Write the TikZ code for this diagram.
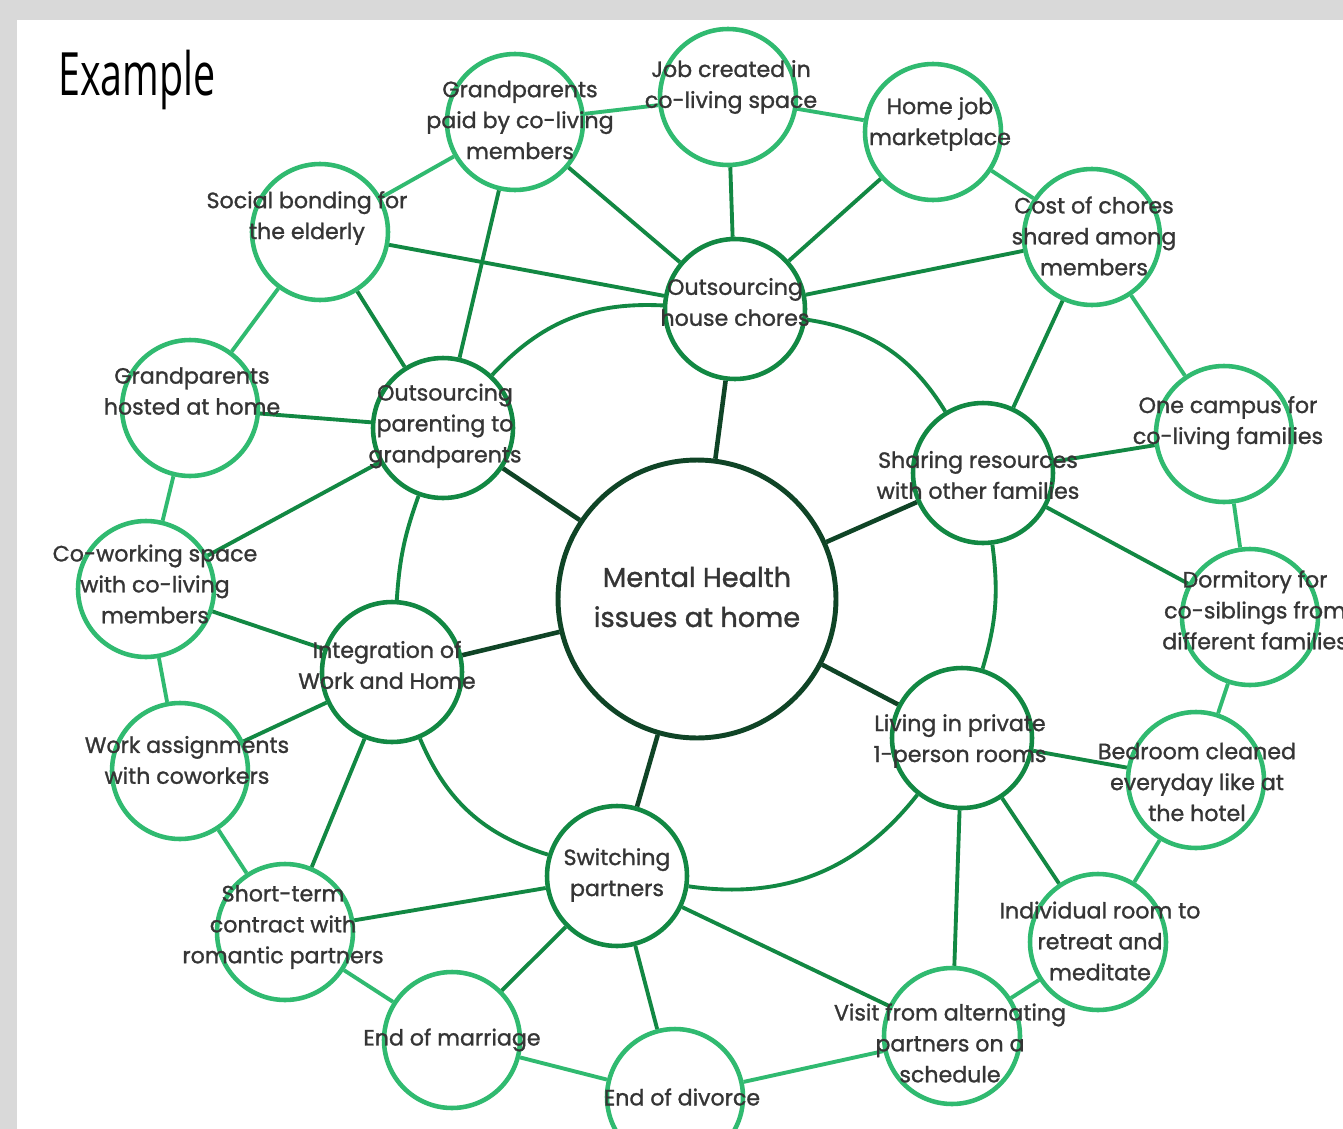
\documentclass[tikz,border=0pt]{standalone}
\usepackage{fontspec}
\setmainfont{Poppins}[FakeBold=1.2]
\newfontfamily\titlefont{Open Sans}[FakeStretch=0.66]
\usetikzlibrary{positioning}

\definecolor{panelgray}{HTML}{D9D9D9}
\definecolor{outergreen}{HTML}{30BA70}
\definecolor{innergreen}{HTML}{128843}
\definecolor{coregreen}{HTML}{0F4426}
\definecolor{labelgray}{HTML}{353535}

\begin{document}
\begin{tikzpicture}[x=0.02cm, y=-0.02cm,
        outer/.style={circle, draw=outergreen, line width=2.6pt, inner sep=0pt, minimum size=2.72cm},
        inner/.style={circle, draw=innergreen, line width=2.6pt, inner sep=0pt, minimum size=2.8cm},
        core/.style={circle, draw=coregreen, line width=2.8pt, inner sep=0pt, minimum size=5.56cm},
        txt/.style={text=labelgray, align=center, inner sep=0pt, font=\fontsize{12.6}{17.6}\selectfont},
        rim/.style={draw=outergreen, line width=2.2pt},
        spoke/.style={draw=innergreen, line width=2.2pt},
        hub/.style={draw=coregreen, line width=2.6pt}]

      % panel
      \clip (0,0) rectangle (1343,1129);
      \fill[panelgray] (0,0) rectangle (1343,1129);
      \fill[white] (17,20) rectangle (1343,1129);

      \node[anchor=west, inner sep=0pt] (title) at (58,80) {\titlefont\fontsize{34}{40}\selectfont Example};

      % circles
      \node[core]  (mental)      at (697,599) {};

      \node[inner] (chores)      at (735,309) {};
      \node[inner] (parenting)   at (443,428) {};
      \node[inner] (integration) at (392,672) {};
      \node[inner] (switching)   at (617,876) {};
      \node[inner] (private)     at (962,738) {};
      \node[inner] (sharing)     at (983,473) {};

      \node[outer] (paid)      at (515,122)  {};
      \node[outer] (job)       at (728,97)   {};
      \node[outer] (market)    at (933,132)  {};
      \node[outer] (cost)      at (1092,237) {};
      \node[outer] (campus)    at (1224,434) {};
      \node[outer] (dorm)      at (1250,617) {};
      \node[outer] (bedroom)   at (1196,780) {};
      \node[outer] (retreat)   at (1098,942) {};
      \node[outer] (visit)     at (952,1036) {};
      \node[outer] (divorce)   at (675,1097) {};
      \node[outer] (marriage)  at (452,1040) {};
      \node[outer] (contract)  at (285,932)  {};
      \node[outer] (assign)    at (180,771)  {};
      \node[outer] (coworking) at (146,589)  {};
      \node[outer] (hosted)    at (190,408)  {};
      \node[outer] (bonding)   at (320,232)  {};

      % connectors
      \draw[hub] (mental) -- (chores) (mental) -- (parenting) (mental) -- (integration)
                 (mental) -- (switching) (mental) -- (private) (mental) -- (sharing);

      \draw[spoke] (chores) to[bend right=25] (parenting)
                   (parenting) to[bend right=8] (integration)
                   (integration) to[bend right=25] (switching)
                   (switching) to[bend right=30] (private)
                   (private) to[bend right=12] (sharing)
                   (sharing) to[bend right=25] (chores);

      \draw[spoke] (chores) -- (paid) (chores) -- (job) (chores) -- (market)
                   (chores) -- (cost) (chores) -- (bonding);
      \draw[spoke] (parenting) -- (paid) (parenting) -- (bonding)
                   (parenting) -- (hosted) (parenting) -- (coworking);
      \draw[spoke] (integration) -- (coworking) (integration) -- (assign) (integration) -- (contract);
      \draw[spoke] (switching) -- (contract) (switching) -- (marriage)
                   (switching) -- (divorce) (switching) -- (visit);
      \draw[spoke] (private) -- (bedroom) (private) -- (retreat) (private) -- (visit);
      \draw[spoke] (sharing) -- (cost) (sharing) -- (campus) (sharing) -- (dorm);

      \draw[rim] (paid) -- (job) -- (market) -- (cost) -- (campus) -- (dorm) -- (bedroom)
                 -- (retreat) -- (visit) -- (divorce) -- (marriage) -- (contract) -- (assign)
                 -- (coworking) -- (hosted) -- (bonding) -- (paid);

      % texts
      \node[txt, font=\fontsize{15.5}{22.8}\selectfont] (mental-t) at (697,597) {Mental Health\\issues at home};

      \node[txt] (chores-t)      at (735,302) {Outsourcing\\house chores};
      \node[txt] (parenting-t)   at (445,426) {Outsourcing\\parenting to\\grandparents};
      \node[txt] (integration-t) at (387,665) {Integration of\\Work and Home};
      \node[txt] (switching-t)   at (617,875) {Switching\\partners};
      \node[txt] (private-t)     at (960,741) {Living in private\\1-person rooms};
      \node[txt] (sharing-t)     at (978,475) {Sharing resources\\with other families};

      \node[txt] (paid-t)      at (520,120)  {Grandparents\\paid by co-living\\members};
      \node[txt] (job-t)       at (731,87)   {Job created in\\co-living space};
      \node[txt] (market-t)    at (940,124)  {Home job\\marketplace};
      \node[txt] (cost-t)      at (1094,236) {Cost of chores\\shared among\\members};
      \node[txt] (campus-t)    at (1228,423) {One campus for\\co-living families};
      \node[txt] (dorm-t)      at (1255,610) {Dormitory for\\co-siblings from\\different families};
      \node[txt] (bedroom-t)   at (1197,782) {Bedroom cleaned\\everyday like at\\the hotel};
      \node[txt] (retreat-t)   at (1100,941) {Individual room to\\retreat and\\meditate};
      \node[txt] (visit-t)     at (950,1043) {Visit from alternating\\partners on a\\schedule};
      \node[txt] (divorce-t)   at (682,1097) {End of divorce};
      \node[txt] (marriage-t)  at (452,1040) {End of marriage};
      \node[txt] (contract-t)  at (283,927)  {Short-term\\contract with\\romantic partners};
      \node[txt] (assign-t)    at (187,760)  {Work assignments\\with coworkers};
      \node[txt] (coworking-t) at (155,584)  {Co-working space\\with co-living\\members};
      \node[txt] (hosted-t)    at (192,391)  {Grandparents\\hosted at home};
      \node[txt] (bonding-t)   at (307,218)  {Social bonding for\\the elderly};

\end{tikzpicture}
\end{document}
